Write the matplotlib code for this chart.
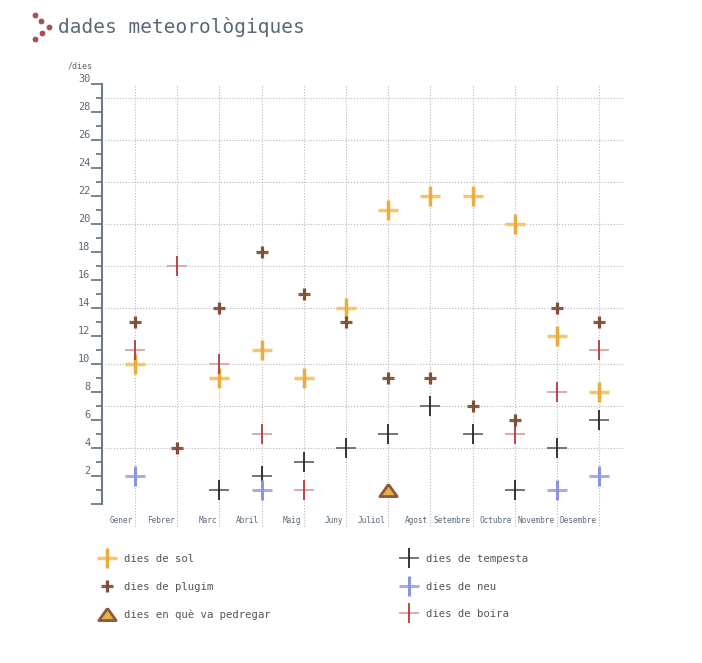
import numpy as np
import matplotlib.pyplot as plt
from matplotlib.lines import Line2D
from matplotlib.legend_handler import HandlerTuple

plt.rcParams['font.family'] = ['DejaVu Sans Mono', 'DejaVu Sans']

# monthly counts of days (nan = no mark)
nan = np.nan
months = ["Gener", "Febrer", "Marc", "Abril", "Maig", "Juny", "Juliol",
          "Agost", "Setembre", "Octubre", "Novembre", "Desembre"]
sol = [10, nan, 9, 11, 9, 14, 21, 22, 22, 20, 12, 8]
plugim = [13, 4, 14, 18, 15, 13, 9, 9, 7, 6, 14, 13]
tempesta = [nan, nan, 1, 2, 3, 4, 5, 7, 5, 1, 4, 6]
neu = [2, nan, nan, 1, nan, nan, nan, nan, nan, nan, 1, 2]
boira = [11, 17, 10, 5, 1, nan, nan, nan, nan, 5, 8, 11]
pedregar = [nan, nan, nan, nan, nan, nan, 1, nan, nan, nan, nan, nan]

grid_y = [0, 4, 7, 10, 14, 17, 20, 23, 26, 29]

axis_col = "#6b7b8b"
text_col = "#5a6878"

fig = plt.figure(figsize=(7.02, 6.63), dpi=100)
ax = fig.add_axes([0.1453, 0.2398, 0.745, 0.6335])
x = np.arange(len(months))

# grid
ax.hlines(grid_y, -0.71, 11.56, colors="#b8b8b8", lw=0.8,
          linestyles=(0, (1, 1.6)), zorder=1)
ax.vlines(x, -1.55, 30, colors="#b8b8b8", lw=0.8,
          linestyles=(0, (1, 1.6)), clip_on=False, zorder=1)


def two_tone(vals, size, width, light, dark, z=3):
    h, = ax.plot(x, vals, ls="none", marker="_", ms=size, mew=width,
                 color=light, zorder=z)
    v, = ax.plot(x, vals, ls="none", marker="|", ms=size, mew=width,
                 color=dark, zorder=z)
    return (h, v)


h_sol = two_tone(sol, 14.8, 2.5, "#f4c86a", "#e8ac40")
h_plugim = two_tone(plugim, 8.2, 2.3, "#8a5a40", "#7e5038", z=4)
h_temp = two_tone(tempesta, 13.7, 1.3, "#6a6a6a", "#262626")
h_neu = two_tone(neu, 14.5, 2.2, "#a6aee8", "#8c94dc")
h_boira = two_tone(boira, 14.0, 1.3, "#dca3a3", "#b13a3a")
tri = [(0, 0.7), (-1, -0.7), (1, -0.7), (0, 0.7)]
h_ped, = ax.plot(x, pedregar, ls="none", marker=tri, ms=12.5, mew=2,
                 mfc="#e8b04a", mec="#8a5a3c", zorder=5)

ax.set_xlim(-0.782, 11.61)
ax.set_ylim(0, 30)

for s in ["top", "right", "bottom"]:
    ax.spines[s].set_visible(False)
ax.spines["left"].set_color(axis_col)
ax.spines["left"].set_linewidth(1.5)
ax.spines["left"].set_bounds(0, 30)

ax.set_xticks([])
ax.set_yticks(range(0, 31, 2), [""] + [str(v) for v in range(2, 31, 2)])
ax.set_yticks(range(1, 30, 2), minor=True)
ax.tick_params(axis="y", which="major", length=8, width=1.3, color=axis_col,
               pad=0.5, labelsize=7.4, labelcolor=text_col)
ax.tick_params(axis="y", which="minor", length=4.5, width=1.3, color=axis_col)
for lab in ax.get_yticklabels():
    lab.set_va("bottom")

for i, m in enumerate(months):
    ax.text(i - 0.06, -1.15, m, ha="right", va="center", fontsize=5.6,
            color=text_col, clip_on=False)

# title and decorations
fig.text(58 / 702, 1 - 27 / 663, "dades meteorològiques", fontsize=14,
         color=text_col, va="center", ha="left")
fig.add_artist(Line2D([34.7 / 702, 41.3 / 702, 49.3 / 702, 42.3 / 702, 34.7 / 702],
                      [1 - 15 / 663, 1 - 21 / 663, 1 - 26.7 / 663, 1 - 33.3 / 663, 1 - 39.3 / 663],
                      transform=fig.transFigure, ls="none", marker="o", ms=4.2,
                      color="#a85252", mew=0))
fig.text(68 / 702, 1 - 66 / 663, "/dies", fontsize=6, color="#666666",
         va="center", ha="left")

handles = [h_sol, h_plugim, h_ped, h_temp, h_neu, h_boira]
labels = ["dies de sol", "dies de plugim", "dies en què va pedregar",
          "dies de tempesta", "dies de neu", "dies de boira"]
leg = fig.legend(handles, labels, ncol=2, loc="upper left",
                 bbox_to_anchor=(98.5 / 702, 1 - 554 / 663), frameon=False,
                 fontsize=7.7, borderpad=0, borderaxespad=0,
                 handlelength=1.6, handletextpad=0.8, labelspacing=1.64,
                 columnspacing=12.1,
                 handler_map={tuple: HandlerTuple(ndivide=1, pad=0)})
for t in leg.get_texts():
    t.set_color("#555555")

fig.savefig("out.png", dpi=100)
